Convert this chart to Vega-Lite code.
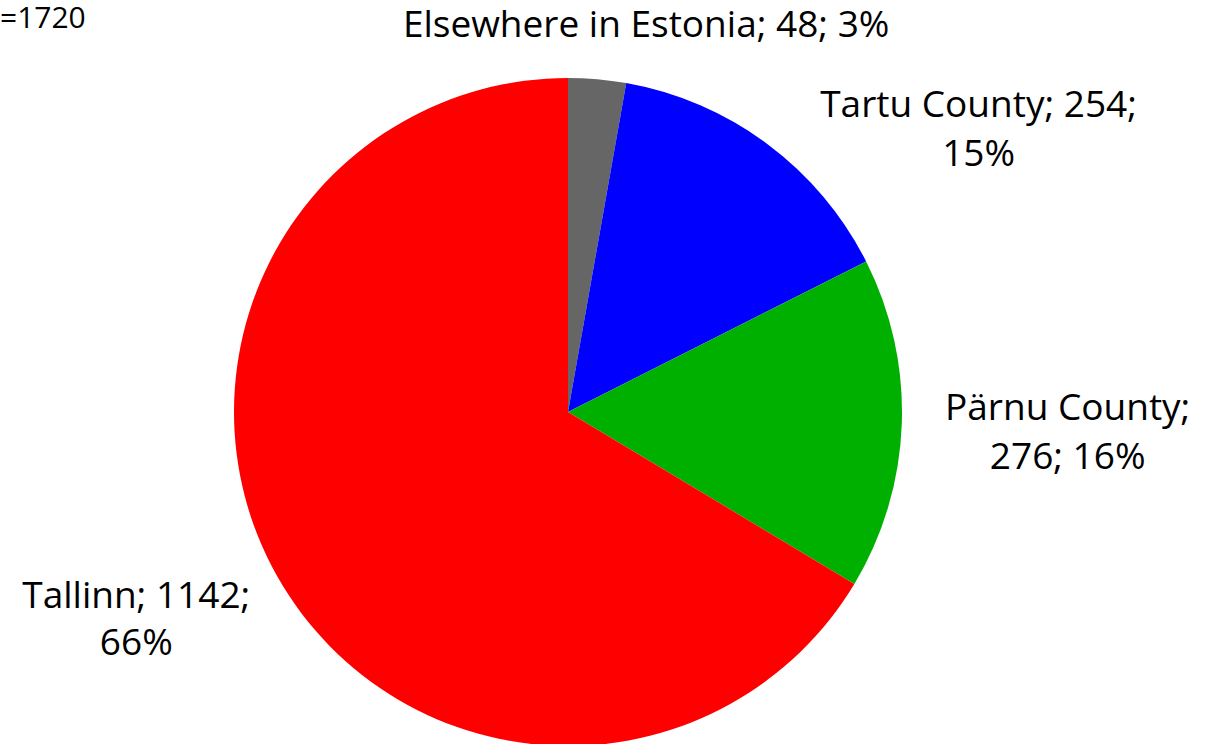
{
  "$schema": "https://vega.github.io/schema/vega-lite/v6.json",
  "width": 1136,
  "height": 664,
  "autosize": {"type": "none"},
  "padding": {"left": 0, "top": 80, "right": 77, "bottom": 0},
  "background": "white",
  "config": {"view": {"stroke": null}, "font": "Open Sans"},
  "data": {
    "values": [
      {"region": "Elsewhere in Estonia", "count": 48, "order": 1, "label": "Elsewhere in Estonia; 48; 3%"},
      {"region": "Tartu County", "count": 254, "order": 2, "label": "Tartu County; 254;\n15%"},
      {"region": "Pärnu County", "count": 276, "order": 3, "label": "Pärnu County;\n276; 16%"},
      {"region": "Tallinn", "count": 1142, "order": 4, "label": "Tallinn; 1142;\n66%"}
    ]
  },
  "layer": [
    {
      "mark": {"type": "arc", "outerRadius": 334, "innerRadius": 0},
      "encoding": {
        "theta": {"field": "count", "type": "quantitative", "stack": true},
        "order": {"field": "order", "type": "quantitative", "sort": "ascending"},
        "color": {
          "field": "region",
          "type": "nominal",
          "scale": {
            "domain": ["Elsewhere in Estonia", "Tartu County", "Pärnu County", "Tallinn"],
            "range": ["#666666", "#0000FF", "#00B000", "#FF0000"]
          },
          "legend": null
        }
      }
    },
    {
      "mark": {"type": "text", "radius": 390, "dx": 44, "dy": 3, "fontSize": 37, "lineHeight": 49, "lineBreak": "\n", "align": "center", "baseline": "middle", "color": "black"},
      "encoding": {
        "theta": {"field": "count", "type": "quantitative", "stack": true},
        "order": {"field": "order", "type": "quantitative", "sort": "ascending"},
        "text": {"condition": {"test": "datum.region === 'Elsewhere in Estonia'", "field": "label"}, "value": ""}
      }
    },
    {
      "mark": {"type": "text", "radius": 420, "dx": 160, "dy": 31, "fontSize": 37, "lineHeight": 49, "lineBreak": "\n", "align": "center", "baseline": "middle", "color": "black"},
      "encoding": {
        "theta": {"field": "count", "type": "quantitative", "stack": true},
        "order": {"field": "order", "type": "quantitative", "sort": "ascending"},
        "text": {"condition": {"test": "datum.region === 'Tartu County'", "field": "label"}, "value": ""}
      }
    },
    {
      "mark": {"type": "text", "radius": 500, "dx": 0, "dy": -21, "fontSize": 37, "lineHeight": 49, "lineBreak": "\n", "align": "center", "baseline": "middle", "color": "black"},
      "encoding": {
        "theta": {"field": "count", "type": "quantitative", "stack": true},
        "order": {"field": "order", "type": "quantitative", "sort": "ascending"},
        "text": {"condition": {"test": "datum.region === 'Pärnu County'", "field": "label"}, "value": ""}
      }
    },
    {
      "mark": {"type": "text", "radius": 480, "dx": -14, "dy": -51, "fontSize": 37, "lineHeight": 47, "lineBreak": "\n", "align": "center", "baseline": "middle", "color": "black"},
      "encoding": {
        "theta": {"field": "count", "type": "quantitative", "stack": true},
        "order": {"field": "order", "type": "quantitative", "sort": "ascending"},
        "text": {"condition": {"test": "datum.region === 'Tallinn'", "field": "label"}, "value": ""}
      }
    },
    {
      "data": {"values": [{"note": "=1720"}]},
      "mark": {"type": "text", "align": "left", "baseline": "alphabetic", "fontSize": 30, "color": "black", "font": "Open Sans"},
      "encoding": {
        "x": {"value": 0},
        "y": {"value": -52},
        "text": {"field": "note"}
      }
    }
  ]
}
